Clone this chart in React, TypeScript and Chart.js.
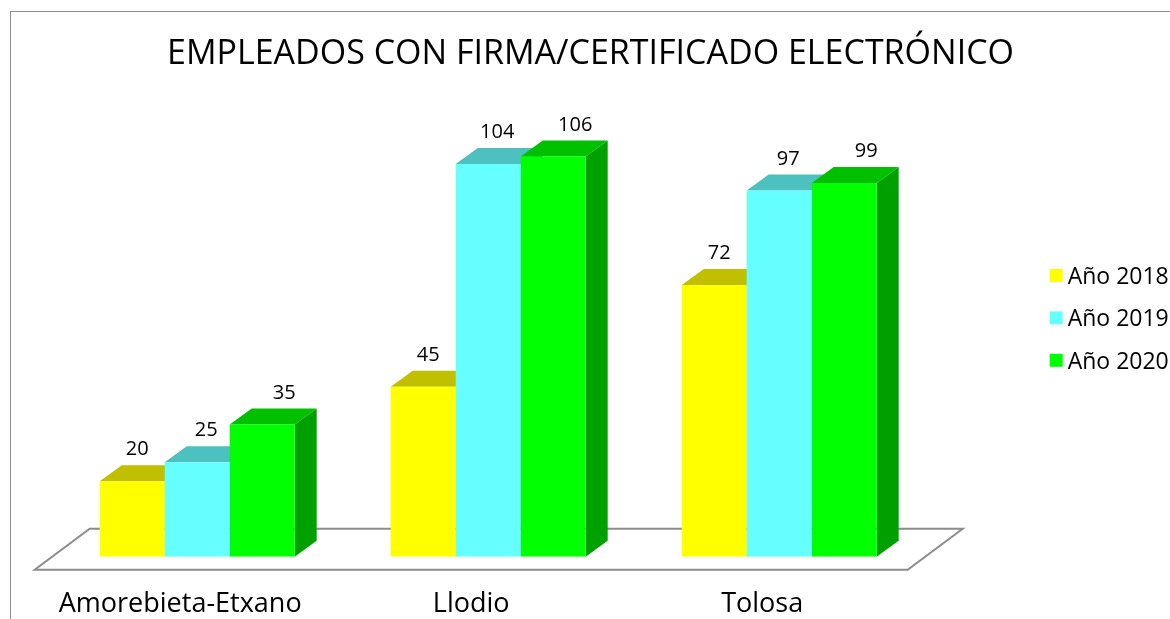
import React, { useEffect, useRef } from "react";
import { Chart, registerables } from "chart.js";

Chart.register(...registerables);

const chartTitle = "EMPLEADOS CON FIRMA/CERTIFICADO ELECTRÓNICO";
const categories = ["Amorebieta-Etxano", "Llodio", "Tolosa"];
const seriesLabels = ["Año 2018", "Año 2019", "Año 2020"];
const values2018 = [20, 45, 72];
const values2019 = [25, 104, 97];
const values2020 = [35, 106, 99];
const seriesValues = [values2018, values2019, values2020];

const frontColors = ["#FFFF00", "#66FFFF", "#00FF00"];
const topColors = ["#C0C000", "#4DC0C0", "#00C000"];
const sideColors = ["#A0A000", "#3FA0A0", "#00A000"];
const labelOffsets = [5, 9, 22];

const FONT = "'Open Sans', 'Noto Sans', sans-serif";
const DX = 22;
const DY = 16;

const threeDPlugin = {
  id: "threeD",
  beforeDatasetsDraw(chart: any) {
    const ctx = chart.ctx;
    const { left, right } = chart.chartArea;
    const base = chart.scales.y.getPixelForValue(0);
    ctx.save();
    // floor
    ctx.beginPath();
    ctx.moveTo(left - 17, base + 13);
    ctx.lineTo(right - 17, base + 13);
    ctx.lineTo(right + 38, base - 28);
    ctx.lineTo(left + 38, base - 28);
    ctx.closePath();
    ctx.fillStyle = "#ffffff";
    ctx.fill();
    ctx.strokeStyle = "#8c8c8c";
    ctx.lineWidth = 2;
    ctx.stroke();
    // top and side faces
    const n = chart.data.labels.length;
    for (let i = 0; i < n; i++) {
      for (let d = 0; d < chart.data.datasets.length; d++) {
        const el = chart.getDatasetMeta(d).data[i];
        const { x, y, base: b, width } = el.getProps(["x", "y", "base", "width"], true);
        const l = x - width / 2;
        const r = x + width / 2;
        ctx.fillStyle = sideColors[d];
        ctx.beginPath();
        ctx.moveTo(r, y);
        ctx.lineTo(r + DX, y - DY);
        ctx.lineTo(r + DX, b - DY);
        ctx.lineTo(r, b);
        ctx.closePath();
        ctx.fill();
        ctx.fillStyle = topColors[d];
        ctx.beginPath();
        ctx.moveTo(l, y);
        ctx.lineTo(r, y);
        ctx.lineTo(r + DX, y - DY);
        ctx.lineTo(l + DX, y - DY);
        ctx.closePath();
        ctx.fill();
      }
    }
    ctx.restore();
  },
  afterDatasetsDraw(chart: any) {
    const ctx = chart.ctx;
    const xs = chart.scales.x;
    const base = chart.scales.y.getPixelForValue(0);
    ctx.save();
    ctx.fillStyle = "#000";
    ctx.textAlign = "center";
    // title, centred on the whole canvas
    ctx.textBaseline = "middle";
    ctx.font = `34px ${FONT}`;
    ctx.fillText(chartTitle, chart.width / 2, 42);
    // value labels
    ctx.textBaseline = "alphabetic";
    ctx.font = `20px ${FONT}`;
    chart.data.datasets.forEach((ds: any, d: number) => {
      chart.getDatasetMeta(d).data.forEach((el: any, i: number) => {
        const { x, y } = el.getProps(["x", "y"], true);
        ctx.fillText(String(ds.data[i]), x + labelOffsets[d], y - DY - 10);
      });
    });
    // category labels
    ctx.font = `27px ${FONT}`;
    chart.data.labels.forEach((lab: string, i: number) => {
      ctx.fillText(lab, xs.getPixelForValue(i) - 17, base + 55);
    });
    // legend
    const { right } = chart.chartArea;
    ctx.textAlign = "left";
    ctx.font = `23px ${FONT}`;
    chart.data.datasets.forEach((ds: any, d: number) => {
      const by = 272 + d * 42.4;
      ctx.fillStyle = frontColors[d];
      ctx.fillRect(right + 125, by - 15, 13, 13);
      ctx.fillStyle = "#000";
      ctx.fillText(ds.label, right + 143, by);
    });
    ctx.restore();
  },
};

export default function App() {
  const ref = useRef<HTMLCanvasElement | null>(null);
  useEffect(() => {
    if (!ref.current) return;
    const chart = new Chart(ref.current, {
      type: "bar",
      data: {
        labels: categories,
        datasets: seriesLabels.map((label, d) => ({
          label,
          data: seriesValues[d],
          backgroundColor: frontColors[d],
          borderWidth: 0,
          categoryPercentage: 0.67,
          barPercentage: 1,
        })),
      },
      options: {
        responsive: false,
        animation: false,
        devicePixelRatio: 1,
        layout: { padding: { left: 40.7, right: 245.3, top: 91.7, bottom: 62.3 } },
        scales: {
          x: { display: false },
          y: { display: false, min: 0, max: 120 },
        },
        plugins: {
          legend: { display: false },
          tooltip: { enabled: false },
          title: { display: false },
        },
      },
      plugins: [threeDPlugin],
    } as any);
    return () => chart.destroy();
  }, []);
  return (
    <div style={{ position: "fixed", left: 0, top: 0, width: 1170, height: 619, overflow: "hidden", background: "#fff" }}>
      <div style={{ position: "absolute", left: 10, top: 11, width: 1200, height: 700, border: "1px solid #8c8c8c", boxSizing: "border-box" }}>
        <canvas ref={ref} width={1159} height={607} style={{ display: "block", width: 1159, height: 607 }} />
      </div>
    </div>
  );
}
